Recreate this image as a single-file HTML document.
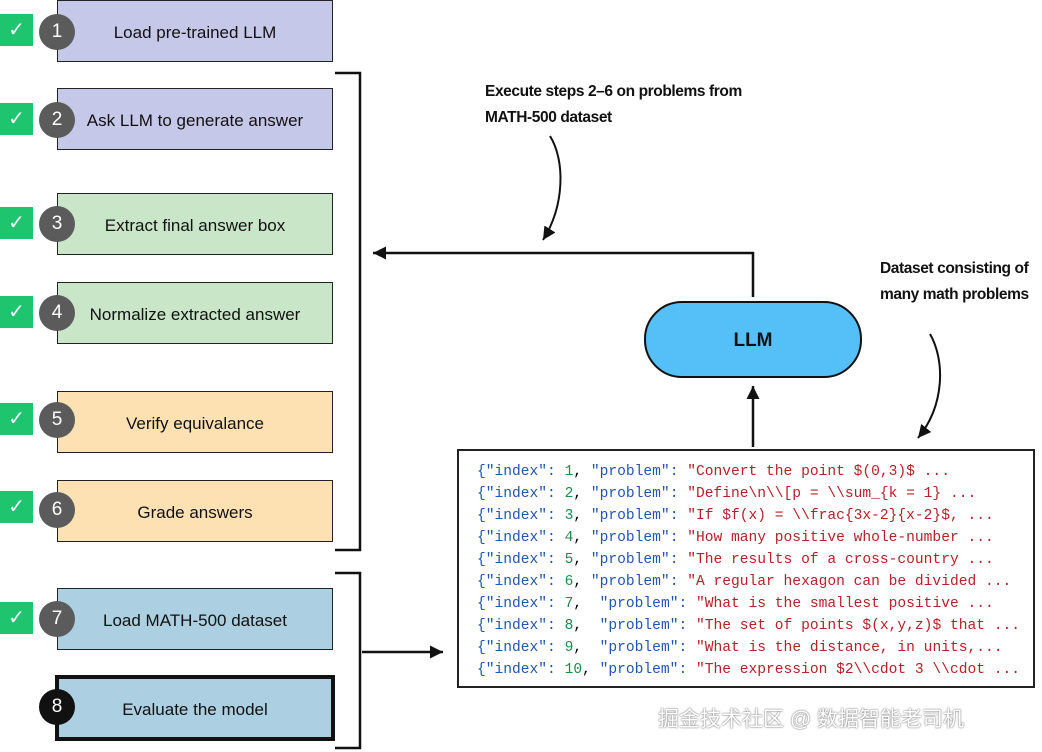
<!DOCTYPE html>
<html><head><meta charset="utf-8"><style>
body{margin:0;width:1042px;height:752px;background:#fff;overflow:hidden;position:relative;font-family:"Liberation Sans",sans-serif}
.box{position:absolute;left:57px;width:274px;height:60px;border:1.5px solid #222;display:flex;align-items:center;justify-content:center;font-size:17px;color:#111;box-sizing:content-box;padding-top:3px;height:57px}
.chk{position:absolute;left:0;width:33px;height:32px;background:#1fc46e;color:#fff;font-size:20px;text-align:center;line-height:32px}
.num{position:absolute;left:39px;width:36px;height:36px;border-radius:50%;background:#5b5b5b;color:#fff;font-size:19px;text-align:center;line-height:36px}
.code{position:absolute;left:457px;top:449px;width:578px;height:239px;border:2px solid #222;font-family:"Liberation Mono",monospace;font-size:14.6px;line-height:22px;padding:10px 0 0 18px;box-sizing:border-box;white-space:pre}
.k{color:#2255b0}.n{color:#1f8a4c}.s{color:#b5222a}
.lbl{position:absolute;font-weight:bold;font-size:15.5px;line-height:26px;letter-spacing:-0.4px;color:#111}
</style></head><body>
<div class="box" style="top:0;background:#c6c8ea">Load pre-trained LLM</div>
<div class="box" style="top:88px;background:#c6c8ea">Ask LLM to generate answer</div>
<div class="box" style="top:193px;background:#c9e6c9">Extract final answer box</div>
<div class="box" style="top:282px;background:#c9e6c9">Normalize extracted answer</div>
<div class="box" style="top:391px;background:#fde1b2">Verify equivalance</div>
<div class="box" style="top:480px;background:#fde1b2">Grade answers</div>
<div class="box" style="top:588px;background:#acd0e1">Load MATH-500 dataset</div>
<div class="box" style="top:675px;left:55px;width:272px;height:55px;border:4px solid #111;background:#acd0e1">Evaluate the model</div>

<div class="chk" style="top:14px">✓</div><div class="num" style="top:14px">1</div>
<div class="chk" style="top:103px">✓</div><div class="num" style="top:102px">2</div>
<div class="chk" style="top:207px">✓</div><div class="num" style="top:206px">3</div>
<div class="chk" style="top:296px">✓</div><div class="num" style="top:295px">4</div>
<div class="chk" style="top:403px">✓</div><div class="num" style="top:402px">5</div>
<div class="chk" style="top:491px">✓</div><div class="num" style="top:492px">6</div>
<div class="chk" style="top:602px">✓</div><div class="num" style="top:601px">7</div>
<div class="num" style="top:689px;background:#111">8</div>

<svg width="1042" height="752" style="position:absolute;left:0;top:0">
<defs><marker id="a" markerWidth="14" markerHeight="14" refX="13" refY="6.5" orient="auto" markerUnits="userSpaceOnUse"><path d="M0,0L13,6.5L0,13z" fill="#111"/></marker></defs>
<g stroke="#111" stroke-width="2.5" fill="none">
<path d="M335,73H360V550H335"/>
<path d="M335,573H360V748H335"/>
<path d="M362,652H443" marker-end="url(#a)"/>
<path d="M753,297V253H373" marker-end="url(#a)"/>
<path d="M753,447V386" marker-end="url(#a)"/>
<path d="M550,136C565,160 565,205 543,240" stroke-width="2" marker-end="url(#a)"/>
<path d="M930,334C945,360 945,405 918,438" stroke-width="2" marker-end="url(#a)"/>
</g>
<rect x="645" y="302" width="216" height="75" rx="37" fill="#55bff7" stroke="#111" stroke-width="2"/>
<text x="753" y="346" text-anchor="middle" font-family="Liberation Sans" font-weight="bold" font-size="19" fill="#111">LLM</text>
</svg>
<div class="lbl" style="left:485px;top:79px">Execute steps 2–6 on problems from<br>MATH-500 dataset</div>
<div class="lbl" style="left:880px;top:256px">Dataset consisting of<br>many math problems</div>
<div class="code"><span class="k">{"index":</span> <span class="n">1</span>, <span class="k">"problem":</span> <span class="s">"Convert the point $(0,3)$ ...</span>
<span class="k">{"index":</span> <span class="n">2</span>, <span class="k">"problem":</span> <span class="s">"Define\n\\[p = \\sum_{k = 1} ...</span>
<span class="k">{"index":</span> <span class="n">3</span>, <span class="k">"problem":</span> <span class="s">"If $f(x) = \\frac{3x-2}{x-2}$, ...</span>
<span class="k">{"index":</span> <span class="n">4</span>, <span class="k">"problem":</span> <span class="s">"How many positive whole-number ...</span>
<span class="k">{"index":</span> <span class="n">5</span>, <span class="k">"problem":</span> <span class="s">"The results of a cross-country ...</span>
<span class="k">{"index":</span> <span class="n">6</span>, <span class="k">"problem":</span> <span class="s">"A regular hexagon can be divided ...</span>
<span class="k">{"index":</span> <span class="n">7</span>,  <span class="k">"problem":</span> <span class="s">"What is the smallest positive ...</span>
<span class="k">{"index":</span> <span class="n">8</span>,  <span class="k">"problem":</span> <span class="s">"The set of points $(x,y,z)$ that ...</span>
<span class="k">{"index":</span> <span class="n">9</span>,  <span class="k">"problem":</span> <span class="s">"What is the distance, in units,...</span>
<span class="k">{"index":</span> <span class="n">10</span>, <span class="k">"problem":</span> <span class="s">"The expression $2\\cdot 3 \\cdot ...</span></div>
<div style="position:absolute;left:658px;top:703px;font-family:'Liberation Sans','Noto Sans CJK SC',sans-serif;font-size:21px;color:#fff;text-shadow:0 0 2px #888,0 0 1px #666">掘金技术社区 @ 数据智能老司机</div>
</body></html>
